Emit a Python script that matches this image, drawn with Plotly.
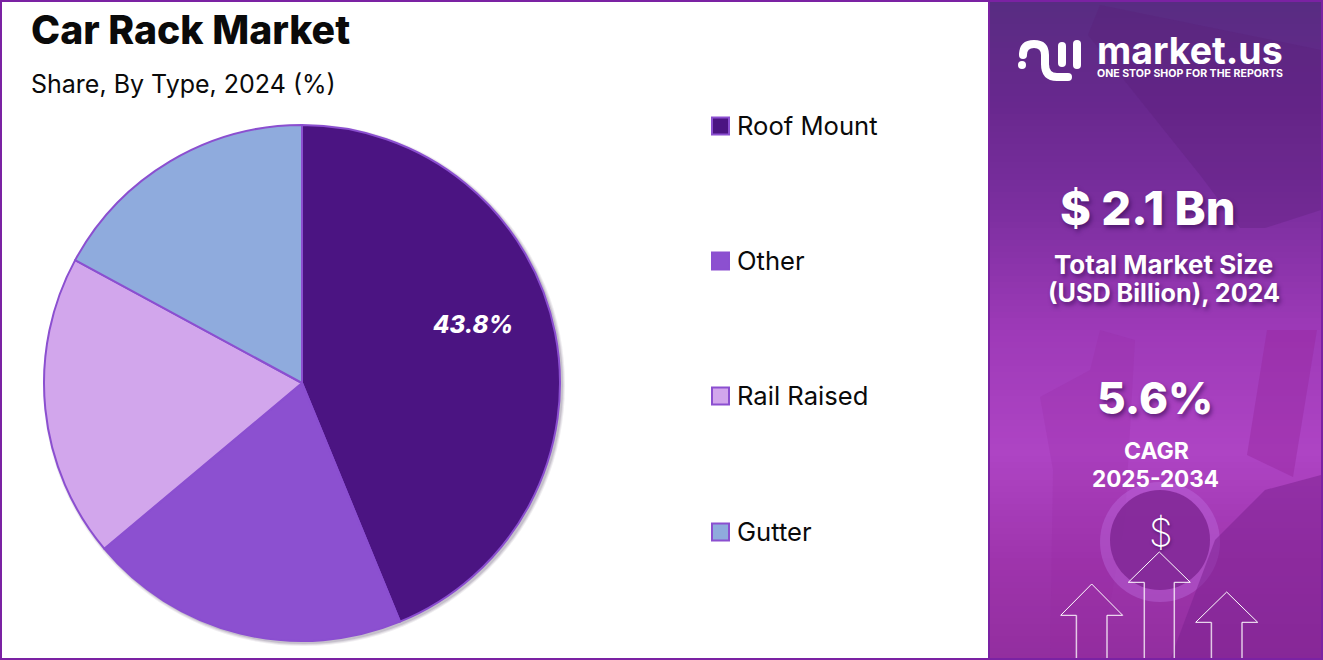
import plotly.graph_objects as go

W, H = 1323, 660

# data
types = ["Roof Mount", "Other", "Rail Raised", "Gutter"]
shares = [43.8, 20.1, 19.0, 17.1]
colors = ["#4b1482", "#8c50d0", "#d2a6ec", "#8fabdd"]

FONT = "Inter"
BORDER = "#7b22a3"
EDGE = "#8b4fd0"


def X(v):
    return v / W


def Y(v):
    return 1 - v / H


def path(*cmds):
    # each cmd is (letter, x, y, x, y ...) in pixels
    out = []
    for c in cmds:
        pts = c[1:]
        xy = [f"{X(pts[i]):.5f} {Y(pts[i + 1]):.5f}" for i in range(0, len(pts), 2)]
        out.append(c[0] + " " + " ".join(xy))
    return " ".join(out)


def poly(pts, fill, close=True):
    cmds = [("M",) + pts[0]] + [("L",) + p for p in pts[1:]]
    return dict(type="path", xref="paper", yref="paper", path=path(*cmds) + (" Z" if close else ""),
                fillcolor=fill, line=dict(width=0), layer="below")


def circle(cx, cy, r, fill, line=None):
    return dict(type="circle", xref="paper", yref="paper", x0=X(cx - r), x1=X(cx + r), y0=Y(cy + r), y1=Y(cy - r),
                fillcolor=fill, line=line or dict(width=0), layer="below")


def rect(x0, y0, x1, y1, fill, line=None, layer="below"):
    return dict(type="rect", xref="paper", yref="paper", x0=X(x0), x1=X(x1), y0=Y(y1), y1=Y(y0),
                fillcolor=fill, line=line or dict(width=0), layer=layer)


def label(x, y, text, size, color="#0a0a0a", weight=400, anchor="center", shadow=None, style="normal"):
    font = dict(family=FONT, size=size, color=color, weight=weight, style=style)
    if shadow:
        font["shadow"] = shadow
    return dict(xref="paper", yref="paper", x=X(x), y=Y(y), text=text, showarrow=False,
                xanchor=anchor, yanchor="middle", font=font)


shapes = []

# pie drop shadow, soft
for r, a in [(261, 0.08), (260, 0.10), (259, 0.14)]:
    shapes.append(circle(304, 385, r, f"rgba(60,40,80,{a})"))

# right panel, background gradient in bands
stops = [(0, (88, 44, 130)), (100, (104, 40, 142)), (200, (122, 46, 158)), (330, (158, 58, 184)),
         (450, (174, 68, 196)), (560, (158, 52, 172)), (660, (146, 46, 158))]
step = 6
for y in range(0, H, step):
    for (a, ca), (b, cb) in zip(stops, stops[1:]):
        if a <= y <= b:
            t = (y - a) / (b - a)
            c = [round(ca[i] + (cb[i] - ca[i]) * t) for i in range(3)]
            shapes.append(rect(989, y, W, y + step + 1, f"rgb({c[0]},{c[1]},{c[2]})"))
            break

# faded photo behind the panel
shapes.append(poly([(1088, 35), (1100, 5), (1321, 50), (1321, 210), (1265, 228), (1240, 228), (1200, 175)],
                   "rgba(90,30,120,0.30)"))
shapes.append(poly([(1267, 330), (1317, 330), (1293, 477), (1247, 455)], "rgba(150,40,160,0.45)"))
shapes.append(poly([(1040, 397), (1090, 370), (1100, 330), (1135, 340), (1125, 520), (1100, 660), (1050, 660), (1053, 470)],
                   "rgba(150,40,160,0.20)"))
shapes.append(circle(1160, 542, 60, "rgba(190,110,225,0.40)"))
shapes.append(circle(1160, 540, 50, "rgba(125,35,145,0.80)"))
shapes.append(poly([(1321, 475), (1265, 490), (1215, 540), (1170, 660), (1321, 660)], "rgba(125,35,145,0.55)"))

# arrows
arrows = [(1091.7, 584, 615.3, 31, 15.3), (1159.3, 552, 582.3, 31, 15), (1226.7, 592, 622.3, 31, 15.3)]
for tip_x, tip_y, sh_y, half, shaft in arrows:
    head = [(tip_x - shaft, sh_y), (tip_x - half, sh_y), (tip_x, tip_y), (tip_x + half, sh_y), (tip_x + shaft, sh_y)]
    d = poly(head, "rgba(0,0,0,0)", close=False)
    d["line"] = dict(color="white", width=1)
    shapes.append(d)
    for sx in (tip_x - shaft, tip_x + shaft):
        shapes.append(dict(type="line", xref="paper", yref="paper", x0=X(sx), x1=X(sx), y0=Y(sh_y), y1=Y(658),
                           line=dict(color="rgba(255,255,255,0.75)", width=1.5), layer="below"))

# logo
logo_line = dict(color="white", width=8)
shapes.append(dict(type="path", xref="paper", yref="paper", layer="below", line=logo_line,
                   path=path(("M", 1023, 55), ("Q", 1023, 44, 1034, 44), ("Q", 1045, 44, 1045, 55), ("L", 1045, 64),
                             ("Q", 1045, 77, 1057, 77), ("L", 1068, 77))))
shapes.append(circle(1068, 77, 4, "white"))
shapes.append(circle(1023, 55, 4, "white"))
for bx, by0, by1 in [(1062, 46, 63), (1077, 44, 65)]:
    shapes.append(dict(type="path", xref="paper", yref="paper", layer="below", line=logo_line,
                       path=path(("M", bx, by0), ("L", bx, by1))))
    shapes.append(circle(bx, by0, 4, "white"))
    shapes.append(circle(bx, by1, 4, "white"))
shapes.append(circle(1022, 65, 4, "white"))

# frame around chart and panel
shapes.append(rect(1, 1, W - 1, H - 1, "rgba(0,0,0,0)", dict(color=BORDER, width=2), layer="above"))
shapes.append(rect(988, 0, 990, H, BORDER, layer="above"))

annotations = [
    label(29, 30, "Car Rack Market", 39.2, weight=800, anchor="left"),
    label(29, 84, "Share, By Type, 2024 (%)", 25, weight=400, anchor="left"),
    label(473, 324, f"{shares[0]}%", 24, "white", 800, style="italic"),
]

# legend
legend_y = [126, 261, 396, 532]
for name, col, ly in zip(types, colors, legend_y):
    shapes.append(rect(712, ly - 8.5, 729, ly + 8.5, col, dict(color=EDGE, width=2), layer="above"))
    annotations.append(label(735, ly - 1, name, 25.6, anchor="left"))

# panel text
shade = "2px 3px 4px rgba(50,10,80,0.6)"
annotations += [
    label(1190, 50, "market.us", 37.5, "white", 700),
    label(1190, 74, "ONE STOP SHOP FOR THE REPORTS", 10.6, "white", 700),
    label(1148, 207, "$ 2.1 Bn", 47, "white", 800, shadow=shade),
    label(1163, 264, "Total Market Size", 26, "white", 700, shadow=shade),
    label(1164, 293, "(USD Billion), 2024", 25.2, "white", 700, shadow=shade),
    label(1155, 398, "5.6%", 44, "white", 800, shadow=shade),
    label(1156, 451, "CAGR", 23, "white", 700),
    label(1155, 479, "2025-2034", 22.5, "white", 700),
    label(1161, 532, "$", 38, "white", 200, shadow="1px 2px 3px rgba(50,10,80,0.5)"),
]

fig = go.Figure(go.Pie(
    labels=types,
    values=shares,
    textinfo="none",
    marker=dict(colors=colors, line=dict(color=EDGE, width=2)),
    sort=False,
    direction="clockwise",
    rotation=0,
    hoverinfo="label+percent",
    showlegend=False,
    domain=dict(x=[X(302 - 258), X(302 + 258)], y=[Y(383 + 258), Y(383 - 258)]),
))

fig.update_layout(
    width=W,
    height=H,
    margin=dict(l=0, r=0, t=0, b=0),
    paper_bgcolor="white",
    shapes=shapes,
    annotations=annotations,
)

fig.write_html("out.html", config=dict(displayModeBar=False), post_script="document.body.style.margin='0';")
